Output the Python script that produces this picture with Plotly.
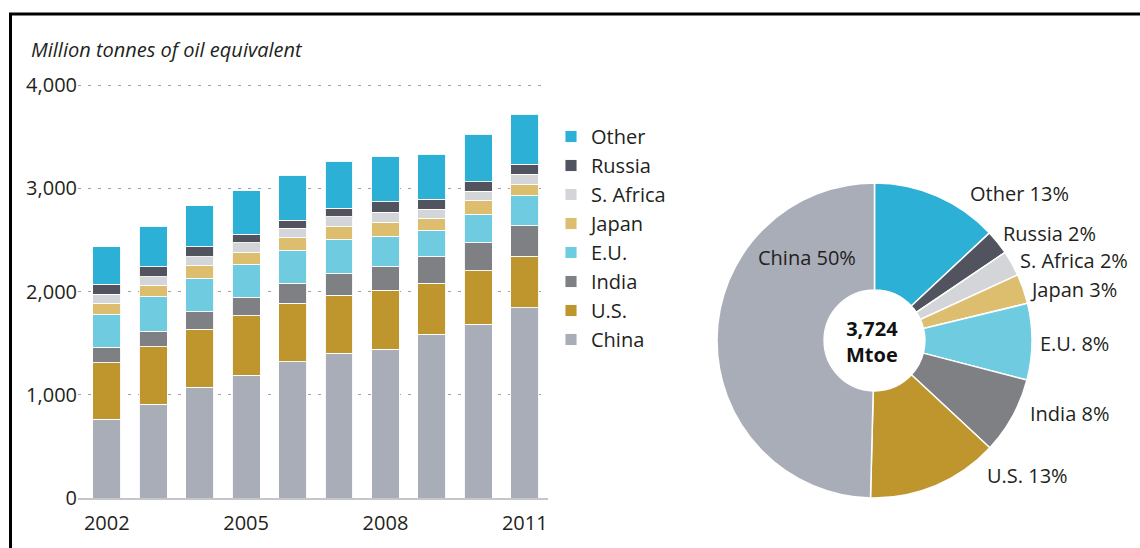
import plotly.graph_objects as go

# ---------------- data ----------------
years = [2002, 2003, 2004, 2005, 2006, 2007, 2008, 2009, 2010, 2011]
china   = [762, 907, 1072, 1188, 1320, 1401, 1443, 1585, 1682, 1843]
us      = [548, 559, 562, 578, 566, 565, 572, 494, 520, 501]
india   = [152, 151, 172, 178, 193, 210, 225, 258, 271, 293]
eu      = [317, 333, 324, 319, 323, 330, 297, 259, 278, 291]
japan   = [107, 113, 119, 113, 119, 122, 133, 113, 129, 113]
safrica = [87, 80, 90, 97, 91, 96, 97, 90, 93, 97]
russia  = [97, 97, 97, 84, 80, 82, 103, 94, 91, 94]
other   = [364, 394, 397, 419, 433, 455, 442, 439, 458, 484]

series_names = ["China", "U.S.", "India", "E.U.", "Japan", "S. Africa", "Russia", "Other"]
series_vals = [china, us, india, eu, japan, safrica, russia, other]
colors = {
    "China": "#a9adb8", "U.S.": "#bf952e", "India": "#7f8084", "E.U.": "#6ecbe0",
    "Japan": "#dcbe6e", "S. Africa": "#d3d5d9", "Russia": "#51545e", "Other": "#2db0d6",
}

x_ticks = [2002, 2005, 2008, 2011]
y_ticks = [0, 1000, 2000, 3000, 4000]
y_ticklabels = ["0", "1,000", "2,000", "3,000", "4,000"]

pie_order = ["Other", "Russia", "S. Africa", "Japan", "E.U.", "India", "U.S.", "China"]
pie_pct = [13, 2, 2, 3, 8, 8, 13, 50]
pie_total_label = "3,724<br>Mtoe"
y_title = "Million tonnes of oil equivalent"

FONT = "Open Sans, sans-serif"
TXT = "#231f20"

W, H = 1140, 548
ML, MR, MT, MB = 78, 0, 80, 50
PW, PH = W - ML - MR, H - MT - MB


def px(x):
    return (x - ML) / PW


def py(y):
    return (H - MB - y) / PH


fig = go.Figure()
for name, vals in zip(series_names, series_vals):
    fig.add_trace(go.Bar(
        x=years, y=vals, name=name,
        marker=dict(color=colors[name], line=dict(color="rgba(255,255,255,0.9)", width=1)),
    ))

last = {n: v[-1] for n, v in zip(series_names, series_vals)}
pie_values = [last[n] for n in pie_order]
fig.add_trace(go.Pie(
    labels=pie_order, values=pie_values, sort=False, direction="clockwise", rotation=0,
    hole=0.32, textinfo="none", showlegend=False,
    marker=dict(colors=[colors[n] for n in pie_order], line=dict(color="white", width=1.5)),
    domain=dict(x=[px(717), px(1032)], y=[py(498), py(183)]),
))

fig.update_layout(
    width=W, height=H, barmode="stack", bargap=0.4,
    margin=dict(l=ML, r=MR, t=MT, b=MB, pad=0),
    paper_bgcolor="white", plot_bgcolor="white",
    font=dict(family=FONT, size=20, color=TXT),
    xaxis=dict(domain=[0, px(548)], range=[2001.38, 2011.5], tickvals=x_ticks,
               ticktext=[str(t) for t in x_ticks], showgrid=False, zeroline=False,
               showline=True, linecolor="#c4c6ca", linewidth=2, ticks="",
               ticklabelstandoff=6, tickfont=dict(size=20, color=TXT)),
    yaxis=dict(range=[0, 4050], tickvals=y_ticks, ticktext=y_ticklabels,
               showgrid=True, gridcolor="#a0a0a0", gridwidth=1, griddash="3px,7px",
               zeroline=False, showline=False, ticks="", ticklabelstandoff=0,
               tickfont=dict(size=20, color=TXT)),
    legend=dict(x=px(551), xanchor="left", y=py(117), yanchor="top",
                font=dict(size=20, color=TXT), bgcolor="rgba(0,0,0,0)",
                tracegroupgap=0),
    showlegend=True,
)

# border lines
fig.add_shape(type="line", xref="paper", yref="paper", x0=px(9), x1=px(1140),
              y0=py(14), y1=py(14), line=dict(color="black", width=3))
fig.add_shape(type="line", xref="paper", yref="paper", x0=px(10.5), x1=px(10.5),
              y0=py(14), y1=py(548), line=dict(color="black", width=3))

# axis title
fig.add_annotation(text="<i>" + y_title + "</i>", xref="paper", yref="paper",
                   x=px(29), y=py(50), xanchor="left", yanchor="middle", showarrow=False,
                   font=dict(size=20, color=TXT, family=FONT))

# pie centre text
fig.add_annotation(text="<b>" + pie_total_label + "</b>", xref="paper", yref="paper",
                   x=px(872), y=py(341), xanchor="center", yanchor="middle",
                   showarrow=False, font=dict(size=20, color="#111"))

# pie labels
label_pos = {
    "Other": (968, 193, "left"), "Russia": (1001, 233, "left"),
    "S. Africa": (1018, 260, "left"), "Japan": (1028, 289, "left"),
    "E.U.": (1038, 343, "left"), "India": (1028, 413, "left"),
    "U.S.": (985, 475, "left"), "China": (807, 257, "center"),
}
for name, pct in zip(pie_order, pie_pct):
    x0, y0, anc = label_pos[name]
    fig.add_annotation(text=f"{name} {pct}%", xref="paper", yref="paper",
                       x=px(x0), y=py(y0), xanchor=anc, yanchor="middle",
                       showarrow=False, font=dict(size=20, color=TXT))

fig.write_html("out.html", config={"displayModeBar": False},
               post_script="document.body.style.margin='0';document.body.style.padding='0';")
